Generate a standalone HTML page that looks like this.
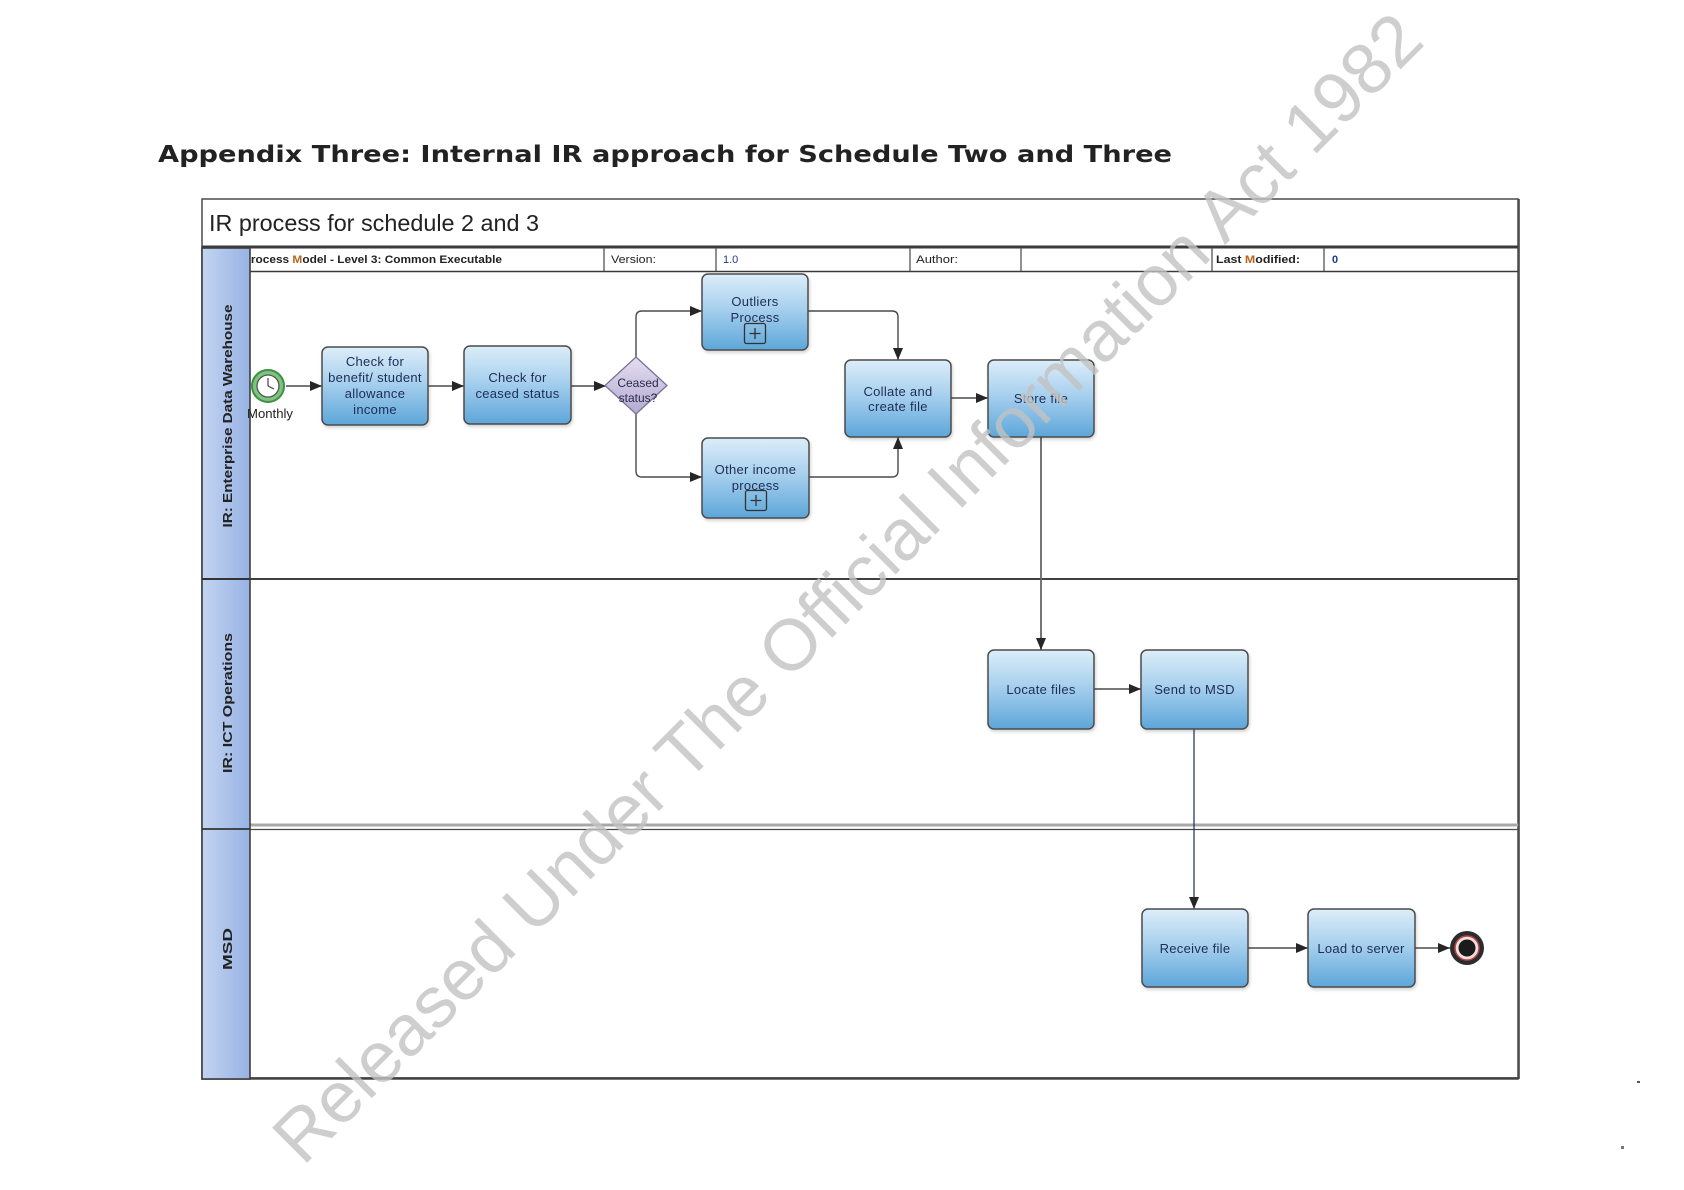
<!DOCTYPE html>
<html><head><meta charset="utf-8"><style>
html,body{margin:0;padding:0;background:#fff;}
svg{display:block;}
</style></head><body>
<svg width="1684" height="1190" viewBox="0 0 1684 1190" xmlns="http://www.w3.org/2000/svg" font-family="'Liberation Sans', Arial, sans-serif">
<defs>
<linearGradient id="bx" x1="0" y1="0" x2="0" y2="1">
<stop offset="0" stop-color="#dcedf9"/><stop offset="0.45" stop-color="#a8d0ee"/><stop offset="1" stop-color="#5da6d9"/>
</linearGradient>
<linearGradient id="dm" x1="0" y1="0" x2="0" y2="1">
<stop offset="0" stop-color="#e4def0"/><stop offset="1" stop-color="#b4aad2"/>
</linearGradient>
<linearGradient id="st" x1="0" y1="0" x2="1" y2="0">
<stop offset="0" stop-color="#c3d4f1"/><stop offset="1" stop-color="#97b3e4"/>
</linearGradient>
<marker id="ah" markerWidth="12" markerHeight="10" refX="12" refY="5" orient="auto" markerUnits="userSpaceOnUse">
<path d="M0,0 L12,5 L0,10 z" fill="#262626"/>
</marker>
<filter id="sh" x="-10%" y="-10%" width="130%" height="130%"><feDropShadow dx="1" dy="2" stdDeviation="1.5" flood-color="#000" flood-opacity="0.18"/></filter>
</defs>

<!-- Heading -->
<text x="158" y="162" font-family="'DejaVu Sans', Verdana, sans-serif" font-weight="bold" font-size="23" fill="#222" textLength="1014" lengthAdjust="spacingAndGlyphs">Appendix Three:  Internal IR approach for Schedule Two and Three</text>

<!-- Frame -->
<rect x="202" y="199" width="1316" height="880" fill="#fff" stroke="#4a4a4a" stroke-width="1.5"/>
<text x="209" y="231" font-size="23" fill="#222" textLength="330" lengthAdjust="spacingAndGlyphs">IR process for schedule 2 and 3</text>

<!-- header row -->
<line x1="202" y1="247" x2="1518" y2="247" stroke="#3a3a3a" stroke-width="3"/>
<line x1="250" y1="271.5" x2="1518" y2="271.5" stroke="#3a3a3a" stroke-width="1.5"/>
<g stroke="#555" stroke-width="1.3">
<line x1="604" y1="248" x2="604" y2="271"/>
<line x1="716" y1="248" x2="716" y2="271"/>
<line x1="910" y1="248" x2="910" y2="271"/>
<line x1="1021" y1="248" x2="1021" y2="271"/>
<line x1="1212" y1="248" x2="1212" y2="271"/>
<line x1="1324" y1="248" x2="1324" y2="271"/>
</g>
<g font-size="11" font-weight="bold" fill="#222">
<text x="243" y="263" textLength="259" lengthAdjust="spacingAndGlyphs">Process <tspan fill="#b8641e">M</tspan>odel - Level 3: Common Executable</text>
<text x="611" y="263" font-weight="normal" textLength="45" lengthAdjust="spacingAndGlyphs">Version:</text>
<text x="723" y="263" font-weight="normal" fill="#1f3a8a">1.0</text>
<text x="916" y="263" font-weight="normal" textLength="42" lengthAdjust="spacingAndGlyphs">Author:</text>
<text x="1216" y="263" textLength="84" lengthAdjust="spacingAndGlyphs">Last <tspan fill="#b8641e">M</tspan>odified:</text>
<text x="1332" y="263" fill="#1f3a8a">0</text>
</g>

<!-- lane separators -->
<line x1="202" y1="579" x2="1519" y2="579" stroke="#404040" stroke-width="2"/>
<line x1="250" y1="825" x2="1519" y2="825" stroke="#a8a8a8" stroke-width="3"/>
<line x1="202" y1="829.5" x2="1519" y2="829.5" stroke="#4a4a4a" stroke-width="1.3"/>
<line x1="202" y1="1078" x2="1519" y2="1078" stroke="#404040" stroke-width="1.8"/>
<line x1="1519" y1="199" x2="1519" y2="1079" stroke="#4a4a4a" stroke-width="1.6"/>

<!-- lane strip -->
<rect x="202" y="248" width="48" height="831" fill="url(#st)" stroke="#3d3d3d" stroke-width="1.6"/>
<line x1="202" y1="579" x2="250" y2="579" stroke="#333" stroke-width="2"/>
<line x1="202" y1="829" x2="250" y2="829" stroke="#333" stroke-width="1.8"/>
<g font-size="13" font-weight="bold" fill="#222" text-anchor="middle">
<text transform="translate(232,416) rotate(-90)" textLength="223" lengthAdjust="spacingAndGlyphs">IR: Enterprise Data Warehouse</text>
<text transform="translate(232,703) rotate(-90)" textLength="140" lengthAdjust="spacingAndGlyphs">IR: ICT Operations</text>
<text transform="translate(232,949) rotate(-90)" textLength="42" lengthAdjust="spacingAndGlyphs">MSD</text>
</g>

<!-- connectors -->
<g fill="none" stroke="#4a4a4a" stroke-width="1.4">
<line x1="286" y1="386" x2="322" y2="386" marker-end="url(#ah)"/>
<line x1="428" y1="386" x2="464" y2="386" marker-end="url(#ah)"/>
<line x1="571" y1="386" x2="606" y2="386" marker-end="url(#ah)"/>
<path d="M636,357 L636,317 Q636,311 642,311 L702,311" marker-end="url(#ah)"/>
<path d="M636,414 L636,471 Q636,477 642,477 L702,477" marker-end="url(#ah)"/>
<path d="M808,311 L892,311 Q898,311 898,317 L898,360" marker-end="url(#ah)"/>
<path d="M809,477 L892,477 Q898,477 898,471 L898,437" marker-end="url(#ah)"/>
<line x1="951" y1="398" x2="988" y2="398" marker-end="url(#ah)"/>
<line x1="1041" y1="437" x2="1041" y2="650" stroke="#666" stroke-width="1.8" marker-end="url(#ah)"/>
<line x1="1094" y1="689" x2="1141" y2="689" marker-end="url(#ah)"/>
<line x1="1194" y1="729" x2="1194" y2="909" stroke="#1e2a5a" stroke-width="1.2" marker-end="url(#ah)"/>
<line x1="1248" y1="948" x2="1308" y2="948" marker-end="url(#ah)"/>
<line x1="1415" y1="948" x2="1450" y2="948" marker-end="url(#ah)"/>
</g>

<!-- start event -->
<circle cx="268" cy="386" r="16" fill="#7cc47f" stroke="#3f8f45" stroke-width="2"/>
<circle cx="268" cy="386" r="11" fill="#fff" stroke="#555" stroke-width="1.3"/>
<g stroke="#444" stroke-width="1.2">
<line x1="268" y1="386" x2="268" y2="378"/>
<line x1="268" y1="386" x2="274" y2="389"/>
</g>
<text x="247" y="418" font-size="13" fill="#222" textLength="46" lengthAdjust="spacingAndGlyphs">Monthly</text>

<!-- gateway -->
<path d="M636,357 L667,385.5 L636,414 L605,385.5 z" fill="url(#dm)" stroke="#7a7296" stroke-width="1.3"/>
<g font-size="12" fill="#2a2a4a" text-anchor="middle">
<text x="638" y="387">Ceased</text>
<text x="638" y="402">status?</text>
</g>

<!-- tasks -->
<g fill="url(#bx)" stroke="#4b4b4b" stroke-width="1.5" filter="url(#sh)">
<rect x="322" y="347" width="106" height="78" rx="6"/>
<rect x="464" y="346" width="107" height="78" rx="6"/>
<rect x="702" y="274" width="106" height="76" rx="6"/>
<rect x="702" y="438" width="107" height="80" rx="6"/>
<rect x="845" y="360" width="106" height="77" rx="6"/>
<rect x="988" y="360" width="106" height="77" rx="6"/>
<rect x="988" y="650" width="106" height="79" rx="6"/>
<rect x="1141" y="650" width="107" height="79" rx="6"/>
<rect x="1142" y="909" width="106" height="78" rx="6"/>
<rect x="1308" y="909" width="107" height="78" rx="6"/>
</g>
<g fill="none" stroke="#333" stroke-width="1.3">
<rect x="744.5" y="323.5" width="21" height="20" rx="2"/>
<rect x="745.5" y="490.5" width="21" height="20" rx="2"/>
<path d="M755,328 v11 M749.5,333.5 h11"/>
<path d="M756,495 v11 M750.5,500.5 h11"/>
</g>
<g font-size="13" fill="#1f2d55" text-anchor="middle" letter-spacing="0.3">
<text x="375" y="366">Check for</text>
<text x="375" y="382">benefit/ student</text>
<text x="375" y="398">allowance</text>
<text x="375" y="414">income</text>
<text x="517.5" y="382">Check for</text>
<text x="517.5" y="398">ceased status</text>
<text x="755" y="306">Outliers</text>
<text x="755" y="322">Process</text>
<text x="755.5" y="474">Other income</text>
<text x="755.5" y="490">process</text>
<text x="898" y="396">Collate and</text>
<text x="898" y="411">create file</text>
<text x="1041" y="403">Store file</text>
<text x="1041" y="694">Locate files</text>
<text x="1194.5" y="694">Send to MSD</text>
<text x="1195" y="953">Receive file</text>
<text x="1361" y="953">Load to server</text>
</g>

<!-- end event -->
<circle cx="1467" cy="948" r="17" fill="#2c2c2c"/>
<circle cx="1467" cy="948" r="12" fill="#f3dede" stroke="#b84848" stroke-width="1.5"/>
<circle cx="1467" cy="948" r="8.5" fill="#1b1b1b"/>

<!-- specks -->
<rect x="1637" y="1081" width="3" height="2" fill="#555"/>
<rect x="1621" y="1146" width="3" height="3" fill="#777"/>

<!-- watermark -->
<text transform="translate(303,1167) rotate(-45)" font-size="72" fill="#c2c2c2" fill-opacity="0.8" textLength="1589" lengthAdjust="spacingAndGlyphs">Released Under The Official Information Act 1982</text>
</svg>
</body></html>
